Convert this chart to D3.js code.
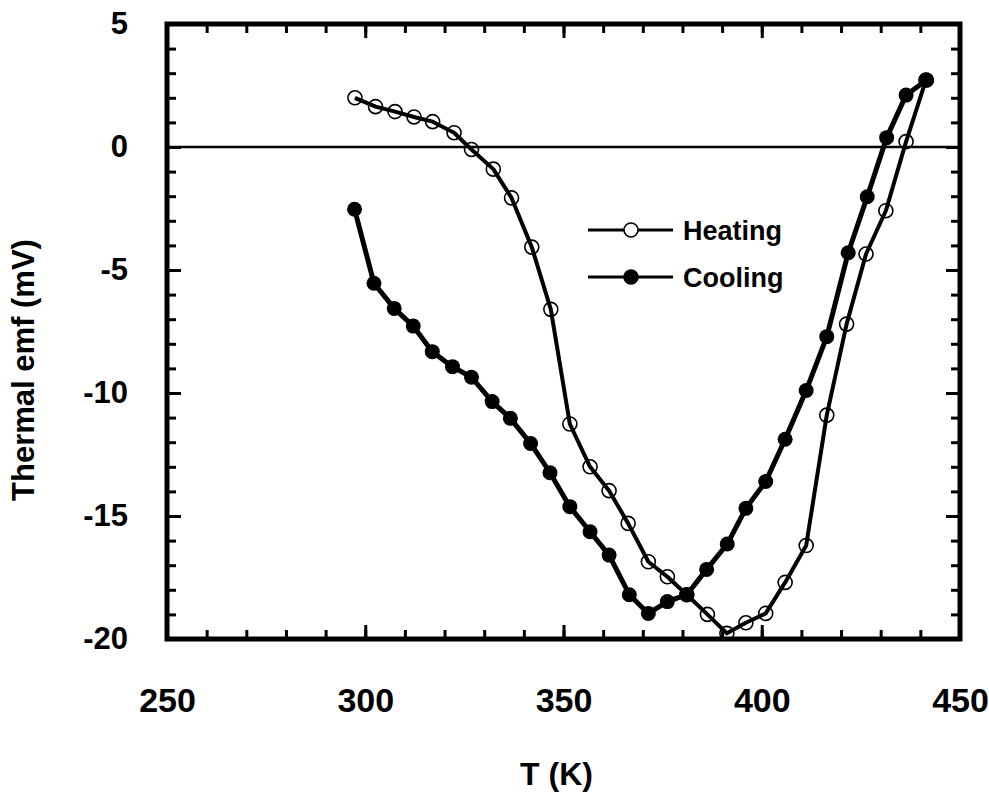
<!DOCTYPE html>
<html>
<head>
<meta charset="utf-8">
<script src="https://cdn.jsdelivr.net/npm/d3@7"></script>
<style>
  html, body { margin: 0; padding: 0; background: #fff; }
  svg { display: block; }
  text { font-family: "Liberation Sans", Arial, sans-serif; font-weight: bold; fill: #000; }
</style>
</head>
<body>
<svg id="chart" width="989" height="794"></svg>
<script>
// Temperature (K) and thermal emf (mV) for the heating run
const heatingT = [297.4, 302.6, 307.5, 312.3, 317.0, 322.4, 326.8, 332.3, 336.9, 342.0,
                  346.8, 351.6, 356.7, 361.5, 366.3, 371.4, 376.2, 381.1, 386.3, 391.2,
                  396.0, 401.0, 405.9, 411.2, 416.4, 421.4, 426.3, 431.3, 436.4, 441.4];
const heatingEmf = [2.0, 1.64, 1.44, 1.22, 1.03, 0.58, -0.1, -0.9, -2.07, -4.07,
                    -6.6, -11.26, -13.0, -13.97, -15.3, -16.86, -17.47, -18.2, -19.0, -19.77,
                    -19.34, -18.96, -17.7, -16.2, -10.9, -7.2, -4.35, -2.59, 0.22, 2.72];

// Temperature (K) and thermal emf (mV) for the cooling run
const coolingT = [297.3, 302.2, 307.3, 312.1, 316.9, 322.0, 326.8, 332.0, 336.6, 341.7,
                  346.6, 351.6, 356.7, 361.5, 366.6, 371.4, 376.2, 381.1, 386.1, 391.3,
                  396.0, 401.0, 405.9, 411.2, 416.4, 421.8, 426.6, 431.5, 436.4, 441.6];
const coolingEmf = [-2.53, -5.54, -6.56, -7.28, -8.32, -8.93, -9.36, -10.35, -11.03, -12.05,
                    -13.24, -14.62, -15.64, -16.59, -18.2, -18.96, -18.48, -18.2, -17.17, -16.14,
                    -14.69, -13.6, -11.88, -9.9, -7.71, -4.3, -2.02, 0.38, 2.11, 2.72];

// Axis ticks
const xMajorTicks = [250, 300, 350, 400, 450];
const xMinorTicks = d3.range(250, 451, 10);
const yMajorTicks = [5, 0, -5, -10, -15, -20];
const yMinorTicks = d3.range(-20, 6, 1);

const seriesNames = ["Heating", "Cooling"];

const svg = d3.select("#chart");
const plotL = 167, plotT = 24, plotR = 960, plotB = 639;

const x = d3.scaleLinear().domain([250, 450]).range([plotL, plotR]);
const y = d3.scaleLinear().domain([-20, 5]).range([plotB, plotT]);

const heating = heatingT.map((t, i) => ({ t, v: heatingEmf[i] }));
const cooling = coolingT.map((t, i) => ({ t, v: coolingEmf[i] }));

// plain hyphen-minus labels
const plainFmt = d => String(d);

// Tick marks pointing inward on all four sides
function ticks(axisGen, transform, values, size) {
  const g = svg.append("g")
    .attr("transform", transform)
    .call(axisGen.tickValues(values).tickSize(size).tickFormat(""));
  g.select(".domain").remove();
  g.selectAll(".tick line").attr("stroke", "#000").attr("stroke-width", 3);
  return g;
}
ticks(d3.axisBottom(x), `translate(0,${plotB})`, xMinorTicks, -9);
ticks(d3.axisBottom(x), `translate(0,${plotB})`, xMajorTicks, -14);
ticks(d3.axisTop(x), `translate(0,${plotT})`, xMinorTicks, -9);
ticks(d3.axisTop(x), `translate(0,${plotT})`, xMajorTicks, -14);
ticks(d3.axisLeft(y), `translate(${plotL},0)`, yMinorTicks, -9);
ticks(d3.axisLeft(y), `translate(${plotL},0)`, yMajorTicks, -14);
ticks(d3.axisRight(y), `translate(${plotR},0)`, yMinorTicks, -9);
ticks(d3.axisRight(y), `translate(${plotR},0)`, yMajorTicks, -14);

// Tick labels
const xLab = svg.append("g")
  .attr("transform", `translate(0,${plotB})`)
  .call(d3.axisBottom(x).tickValues(xMajorTicks).tickSize(0).tickPadding(49).tickFormat(plainFmt));
xLab.select(".domain").remove();
xLab.selectAll("text").attr("font-size", 34).attr("font-family", null);

const yLab = svg.append("g")
  .attr("transform", `translate(${plotL},0)`)
  .call(d3.axisLeft(y).tickValues(yMajorTicks).tickSize(0).tickPadding(39).tickFormat(plainFmt));
yLab.select(".domain").remove();
yLab.selectAll("text").attr("font-size", 31).attr("font-family", null);

// Zero reference line
svg.append("line")
  .attr("x1", plotL).attr("x2", plotR)
  .attr("y1", y(0)).attr("y2", y(0))
  .attr("stroke", "#000").attr("stroke-width", 2.5);

// Plot frame
svg.append("rect")
  .attr("x", plotL).attr("y", plotT)
  .attr("width", plotR - plotL).attr("height", plotB - plotT)
  .attr("fill", "none").attr("stroke", "#000").attr("stroke-width", 5);

// Data lines
const line = d3.line().x(d => x(d.t)).y(d => y(d.v));
svg.append("path").datum(heating)
  .attr("d", line).attr("fill", "none").attr("stroke", "#000").attr("stroke-width", 4)
  .attr("stroke-linejoin", "round");
svg.append("path").datum(cooling)
  .attr("d", line).attr("fill", "none").attr("stroke", "#000").attr("stroke-width", 5)
  .attr("stroke-linejoin", "round");

// Markers
svg.append("g").selectAll("circle").data(heating).join("circle")
  .attr("cx", d => x(d.t)).attr("cy", d => y(d.v)).attr("r", 7)
  .attr("fill", "none").attr("stroke", "#000").attr("stroke-width", 1.6);
svg.append("g").selectAll("circle").data(cooling).join("circle")
  .attr("cx", d => x(d.t)).attr("cy", d => y(d.v)).attr("r", 7.5)
  .attr("fill", "#000");

// Legend
const legend = svg.append("g");
seriesNames.forEach((name, i) => {
  const ly = 230 + i * 47;
  legend.append("line").attr("x1", 588).attr("x2", 673).attr("y1", ly).attr("y2", ly)
    .attr("stroke", "#000").attr("stroke-width", 3);
  legend.append("circle").attr("cx", 631).attr("cy", ly).attr("r", 7)
    .attr("fill", i === 0 ? "#fff" : "#000").attr("stroke", "#000").attr("stroke-width", 1.6);
  legend.append("text").attr("x", 683).attr("y", ly + 10)
    .attr("font-size", 27).text(name);
});

// Axis titles
svg.append("text")
  .attr("x", (plotL + plotR) / 2 - 7).attr("y", 785)
  .attr("text-anchor", "middle").attr("font-size", 32).text("T (K)");
svg.append("text")
  .attr("transform", "translate(34,370) rotate(-90)")
  .attr("text-anchor", "middle").attr("font-size", 31)
  .text("Thermal emf (mV)");
</script>
</body>
</html>
